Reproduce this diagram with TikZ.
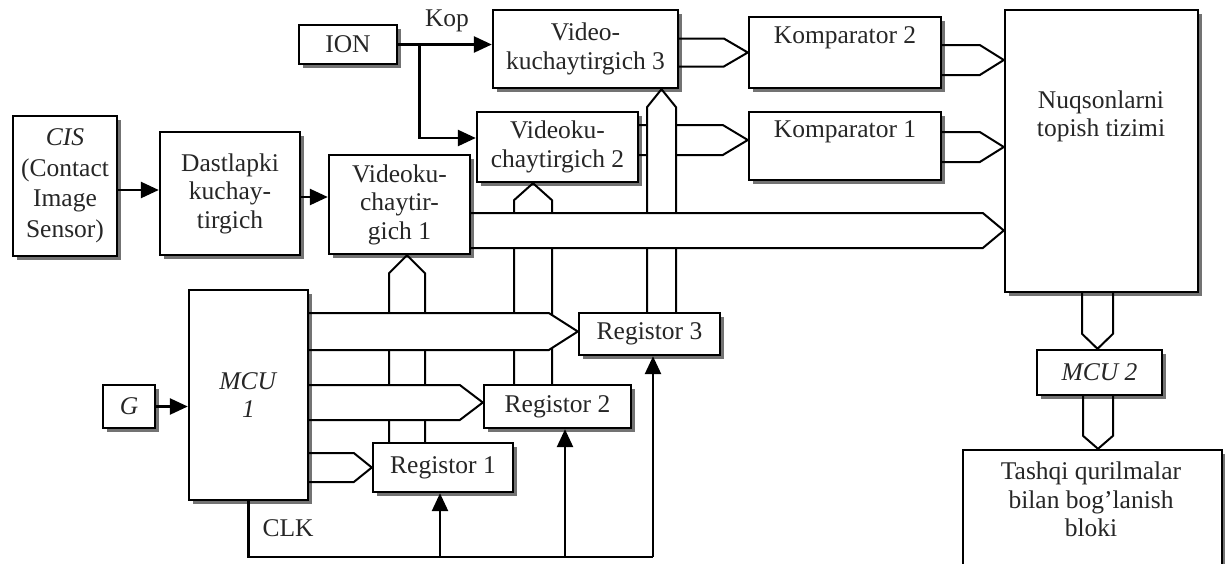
\documentclass[tikz,border=0pt]{standalone}
\usepackage{fontspec}
\setmainfont{Liberation Serif}
\usetikzlibrary{arrows.meta,shadows,calc}
\pgfdeclarelayer{background}
\pgfsetlayers{background,main}
\newcommand\hollowbus[4]{% #1 base, #2 tip, #3 half width, #4 head length
  \coordinate (hbS) at ($(#2)!#4!(#1)$);
  \coordinate (hbA1) at ($(#1)!#3!90:(#2)$);
  \coordinate (hbA2) at ($(#1)!#3!-90:(#2)$);
  \coordinate (hbS1) at ($(hbS)!#3!90:(#2)$);
  \coordinate (hbS2) at ($(hbS)!#3!-90:(#2)$);
  \fill[white] (hbA1) -- (hbS1) -- (#2) -- (hbS2) -- (hbA2) -- cycle;
  \draw[busline] (hbA1) -- (hbS1) -- (#2) -- (hbS2) -- (hbA2);
}
\begin{document}
\begin{tikzpicture}[x=1pt,y=-1pt,
  txt/.style={align=center, inner sep=0pt, text=black!85, font=\fontsize{25.5}{28.5}\selectfont},
  box/.style={txt, draw=black, line width=2.4pt, fill=white,
    drop shadow={shadow xshift=4pt, shadow yshift=-4pt, fill=black, opacity=0.55}},
  busline/.style={draw=black, line width=2pt, line join=miter},
  wire/.style={line width=2.6pt, line join=miter},
  arr/.style={wire, -{Triangle[length=18pt,width=16pt]}}]
\useasboundingbox (0,0) rectangle (1225,563);

% boxes
\node[box, minimum width=104pt, minimum height=140pt, font=\fontsize{25.5}{30.5}\selectfont] (cis) at (65,186) {\textit{CIS}\\(Contact\\Image\\Sensor)};
\node[box, minimum width=140pt, minimum height=123pt] (dast) at (230,193.5) {Dastlapki\\kuchay-\\tirgich};
\node[box, minimum width=141pt, minimum height=99pt] (vk1) at (399.5,204.5) {Videoku-\\chaytir-\\gich 1};
\node[box, minimum width=98pt, minimum height=39pt] (ion) at (348,44.5) {ION};
\node[box, minimum width=185pt, minimum height=78pt] (vk3) at (585.5,49) {Video-\\kuchaytirgich 3};
\node[box, minimum width=161pt, minimum height=70pt] (vk2) at (557.5,147) {Videoku-\\chaytirgich 2};
\node[box, minimum width=192pt, minimum height=71pt] (k2) at (845,52.5) {};
\node[box, minimum width=192pt, minimum height=68pt] (k1) at (845,146) {};
\node[box, minimum width=193pt, minimum height=282pt] (nuq) at (1101.5,151) {};
\node[box, minimum width=125pt, minimum height=45pt] (mcu2) at (1099.5,372.5) {\textit{MCU 2}};
\node[box, minimum width=259pt, minimum height=124pt] (tash) at (1092.5,512) {};
\node[box, minimum width=119pt, minimum height=210pt] (mcu1) at (248.5,395) {\textit{MCU}\\\textit{1}};
\node[box, minimum width=52pt, minimum height=43pt] (g) at (129,406.5) {\textit{G}};
\node[box, minimum width=140pt, minimum height=49pt] (reg1) at (443,467.5) {Registor 1};
\node[box, minimum width=147pt, minimum height=43pt] (reg2) at (557.5,406.5) {Registor 2};
\node[box, minimum width=141pt, minimum height=42pt] (reg3) at (649.5,334) {Registor 3};

% texts placed inside boxes
\node[txt] (k2t) at (845,38) {Komparator 2};
\node[txt] (k1t) at (845,132) {Komparator 1};
\node[txt] (nuqt) at (1101,116.5) {Nuqsonlarni\\topish tizimi};
\node[txt] (tasht) at (1091,499.5) {Tashqi qurilmalar\\bilan bog'lanish\\bloki};
\node[txt] (kop) at (447,21) {Kop};
\node[txt] (clk) at (288,528) {CLK};

% hollow buses
\begin{pgfonlayer}{background}
  % Videokuchaytirgich 2 -> Komparator 1
  \coordinate (t2) at ([yshift=6pt]k1.west); \coordinate (b2) at (t2 -| vk2.east);
  \hollowbus{b2}{t2}{15pt}{25pt}
  % Registor 1 -> Videokuchaytirgich 1
  \coordinate (t9) at ([xshift=7.5pt]vk1.south); \coordinate (b9) at (t9 |- reg1.north);
  \hollowbus{b9}{t9}{18pt}{18pt}
  % Registor 2 -> Videokuchaytirgich 2
  \coordinate (t10) at ([xshift=-24.5pt]vk2.south); \coordinate (b10) at (t10 |- reg2.north);
  \hollowbus{b10}{t10}{19pt}{17pt}
  % Registor 3 -> Videokuchaytirgich 3
  \coordinate (t11) at ([xshift=76pt]vk3.south); \coordinate (b11) at (t11 |- reg3.north);
  \hollowbus{b11}{t11}{14.5pt}{18pt}
  % Videokuchaytirgich 1 -> Nuqsonlarni
  \coordinate (t5) at ([yshift=-79.5pt]nuq.west); \coordinate (b5) at (t5 -| vk1.east);
  \hollowbus{b5}{t5}{17.5pt}{21pt}
  % MCU 1 -> Registors
  \coordinate (t6) at ([yshift=2.5pt]reg3.west); \coordinate (b6) at (t6 -| mcu1.east);
  \hollowbus{b6}{t6}{18.5pt}{29pt}
  \coordinate (t7) at ([yshift=4pt]reg2.west); \coordinate (b7) at (t7 -| mcu1.east);
  \hollowbus{b7}{t7}{17.5pt}{23pt}
  \coordinate (t8) at (reg1.west); \coordinate (b8) at (t8 -| mcu1.east);
  \hollowbus{b8}{t8}{14.5pt}{18pt}
  % Videokuchaytirgich 3 -> Komparator 2
  \coordinate (t1) at (k2.west); \coordinate (b1) at (t1 -| vk3.east);
  \hollowbus{b1}{t1}{14pt}{24pt}
  % Komparators -> Nuqsonlarni
  \coordinate (t3) at ([yshift=91pt]nuq.west); \coordinate (b3) at (t3 -| k2.east);
  \hollowbus{b3}{t3}{15pt}{24pt}
  \coordinate (t4) at ([yshift=4pt]nuq.west); \coordinate (b4) at (t4 -| k1.east);
  \hollowbus{b4}{t4}{15pt}{24pt}
  % Nuqsonlarni -> MCU 2 -> Tashqi
  \coordinate (t12) at ([xshift=-2pt]mcu2.north); \coordinate (b12) at (t12 |- nuq.south);
  \hollowbus{b12}{t12}{15.5pt}{15pt}
  \coordinate (t13) at ([xshift=5.5pt]tash.north); \coordinate (b13) at (t13 |- mcu2.south);
  \hollowbus{b13}{t13}{15pt}{13pt}
\end{pgfonlayer}

% plain arrows
\coordinate (a1) at ([yshift=-4pt]cis.east);
\draw[arr] (a1) -- (a1 -| dast.west);
\coordinate (a2) at ([yshift=-3.5pt]dast.east);
\draw[arr] (a2) -- (a2 -| vk1.west);
\draw[arr] (ion.east) -- (ion.east -| vk3.west);
\coordinate (ionb) at ($(ion.east)+(21,0)$);
\coordinate (vk2in) at ([yshift=9pt]vk2.west);
\draw[arr] (ionb) |- (vk2in);
\draw[arr] (g.east) -- (g.east -| mcu1.west);

% CLK
\coordinate (c1) at (440,557);
\coordinate (c2) at (565,557);
\coordinate (c3) at (653,557);
\draw[wire] (mcu1.south) |- (c3);
\draw[arr] (c1) -- (c1 |- reg1.south);
\draw[arr] (c2) -- (c2 |- reg2.south);
\draw[arr] (c3) -- (c3 |- reg3.south);
\end{tikzpicture}
\end{document}
